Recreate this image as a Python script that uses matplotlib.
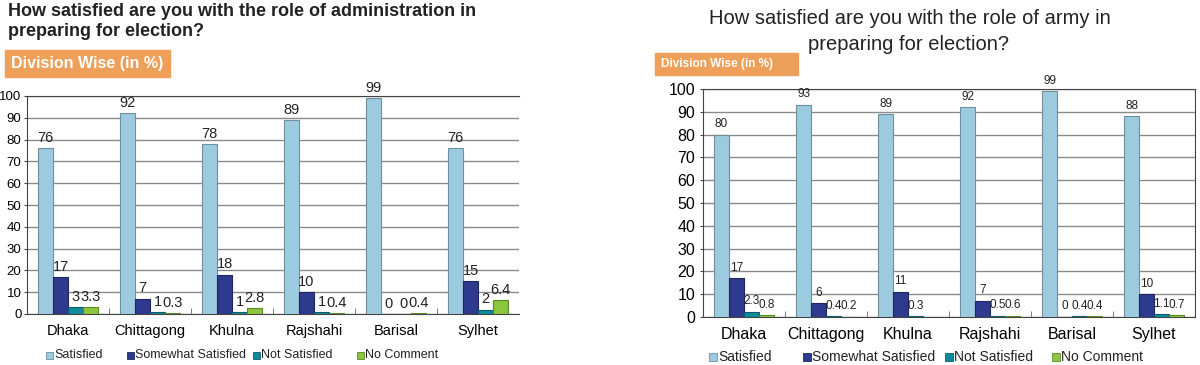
import matplotlib
matplotlib.use("Agg")
import matplotlib.pyplot as plt
import numpy as np

plt.rcParams['font.family'] = ['Liberation Sans', 'DejaVu Sans']

divisions = ["Dhaka", "Chittagong", "Khulna", "Rajshahi", "Barisal", "Sylhet"]
series_names = ["Satisfied", "Somewhat Satisfied", "Not Satisfied", "No Comment"]

admin_satisfied = [76, 92, 78, 89, 99, 76]
admin_somewhat = [17, 7, 18, 10, 0, 15]
admin_not = [3, 1, 1, 1, 0, 2]
admin_nocomment = [3.3, 0.3, 2.8, 0.4, 0.4, 6.4]

army_satisfied = [80, 93, 89, 92, 99, 88]
army_somewhat = [17, 6, 11, 7, 0, 10]
army_not = [2.3, 0.4, 0.3, 0.5, 0.4, 1.1]
army_nocomment = [0.8, 0.2, None, 0.6, 0.4, 0.7]

colors = ["#9ccbe0", "#2e3a8e", "#0f8c9c", "#8cc63f"]
edges = ["#6f8f9c", "#1f275e", "#0a5e69", "#5a8a25"]
orange = "#ee9f5a"

W, H = 1200, 365
fig = plt.figure(figsize=(12, 3.65), dpi=100)


def fx(px):
    return px / W


def fy(py):
    return 1 - py / H


def fmt(v):
    return f"{v:g}"


def draw(ax, data, label_size, tick_size, cat_size, right_spine, offset, ypad):
    n = len(divisions)
    x = np.arange(n)
    w = 15 / 82
    offs = (np.arange(4) - 1.5) * w
    ax.set_axisbelow(True)
    for si, vals in enumerate(data):
        for i, v in enumerate(vals):
            if v is None:
                continue
            ax.bar(x[i] + offs[si], v, width=w, color=colors[si],
                   edgecolor=edges[si], linewidth=0.8, zorder=3)
            ax.text(x[i] + offs[si], v + offset, fmt(v), ha="center", va="bottom",
                    fontsize=label_size, color="#222222", zorder=4)
    ax.set_xlim(-0.5, n - 0.5)
    ax.set_ylim(0, 100)
    ax.set_yticks(range(0, 101, 10))
    ax.yaxis.grid(True, color="#8a8a8a", linewidth=1.0)
    ax.set_xticks(x)
    ax.set_xticklabels(divisions, fontsize=cat_size)
    ax.set_xticks(np.arange(0.5, n - 0.5, 1), minor=True)
    ax.tick_params(axis="x", which="major", length=0, pad=7)
    ax.tick_params(axis="x", which="minor", length=4, direction="in", color="#666666")
    ax.tick_params(axis="y", length=2.5, labelsize=tick_size, color="#444444", pad=ypad)
    for s in ["left", "bottom", "top"]:
        ax.spines[s].set_color("#444444")
    if right_spine:
        ax.spines["right"].set_color("#444444")
    else:
        ax.spines["right"].set_visible(False)


ax1 = fig.add_axes([fx(27), fy(314), fx(492), 218 / H])
draw(ax1, [admin_satisfied, admin_somewhat, admin_not, admin_nocomment],
     10.5, 9.5, 10.5, False, 1.5, 1.5)

ax2 = fig.add_axes([fx(703), fy(317), fx(492), 228 / H])
draw(ax2, [army_satisfied, army_somewhat, army_not, army_nocomment],
     8.5, 11.5, 11.5, True, 2.0, 3)

# Titles
fig.text(fx(8), fy(11), "How satisfied are you with the role of administration in",
         fontsize=13, fontweight="bold", ha="left", va="center", color="#222222")
fig.text(fx(8), fy(31), "preparing for election?",
         fontsize=13, fontweight="bold", ha="left", va="center", color="#222222")
fig.text(fx(910), fy(18), "How satisfied are you with the role of army in",
         fontsize=14.5, ha="center", va="center", color="#222222")
fig.text(fx(908), fy(44), "preparing for election?",
         fontsize=14.5, ha="center", va="center", color="#222222")

# Orange boxes
for (x0, y0, w0, h0, fs) in [(5, 50, 165, 27, 11.5), (655, 53, 143, 22, 8.5)]:
    fig.patches.append(plt.Rectangle((fx(x0), fy(y0 + h0)), w0 / W, h0 / H,
                                     transform=fig.transFigure, color=orange, zorder=1))
    fig.text(fx(x0 + 6), fy(y0 + h0 / 2), "Division Wise (in %)",
             fontsize=fs, fontweight="bold", color="white", ha="left", va="center", zorder=2)


# Legends (manually positioned items)
def legend(xs, y, size, fs):
    for i, name in enumerate(series_names):
        fig.patches.append(plt.Rectangle((fx(xs[i]), fy(y + size / 2)), size / W, size / H,
                                         transform=fig.transFigure, facecolor=colors[i],
                                         edgecolor=edges[i], linewidth=0.6))
        fig.text(fx(xs[i] + size + 1), fy(y), name, fontsize=fs, ha="left",
                 va="center", color="#222222")


legend([46, 127, 253, 357], 355, 7, 9)
legend([709, 803, 945, 1052], 357, 8, 10)

fig.savefig("out.png", dpi=100)
